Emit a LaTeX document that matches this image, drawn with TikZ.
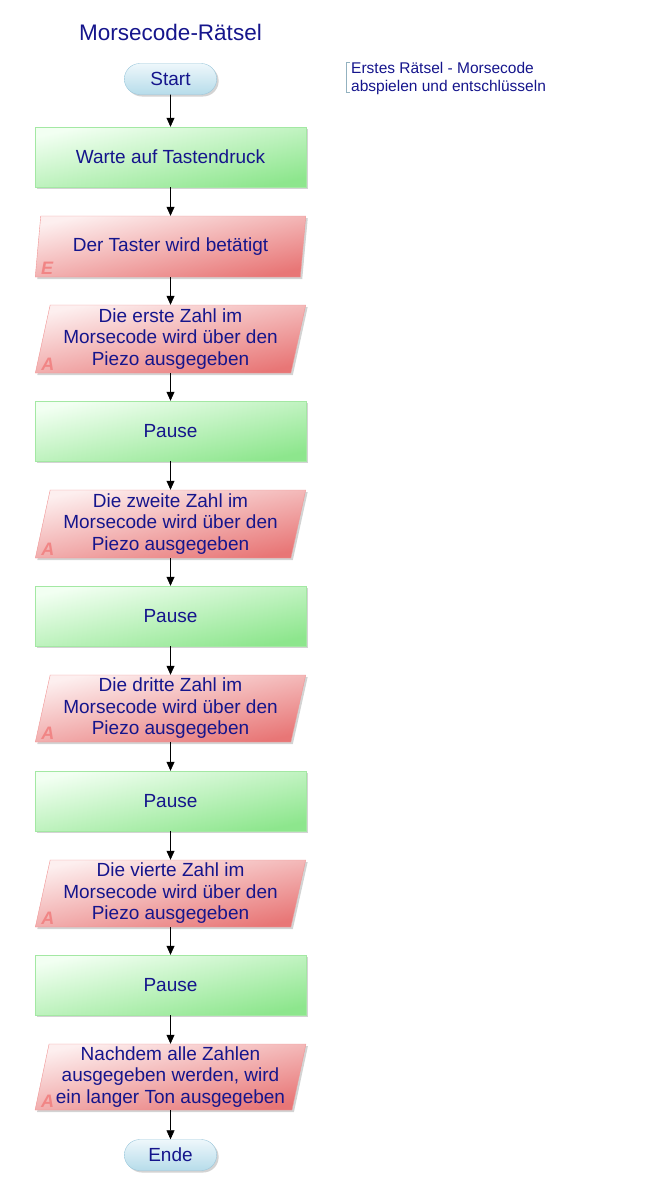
\documentclass[tikz,border=0pt]{standalone}
\usepackage{fontspec}
\setmainfont{Liberation Sans}
\usetikzlibrary{shapes.geometric,shapes.misc,shadows,arrows.meta}
\definecolor{txtblue}{HTML}{15158C}
\definecolor{grnlo}{HTML}{F2FFF2}
\definecolor{grnhi}{HTML}{8DE68D}
\definecolor{grnln}{HTML}{A3E8A3}
\definecolor{redlo}{HTML}{FDEFEF}
\definecolor{redhi}{HTML}{E87676}
\definecolor{redln}{HTML}{F09494}
\definecolor{blulo}{HTML}{EEF7FB}
\definecolor{bluhi}{HTML}{B6DCEA}
\definecolor{bluln}{HTML}{9CC8DC}
\begin{document}
\begin{tikzpicture}[x=1pt, y=-1pt,
  every node/.style={text=txtblue, font=\fontsize{19}{21.5}\selectfont, align=center},
  shd/.style={drop shadow={opacity=0.35, shadow xshift=2pt, shadow yshift=-2pt}},
  term/.style={rounded rectangle, minimum width=99pt, minimum height=31pt, draw=bluln,
    top color=blulo, bottom color=bluhi, shd},
  proc/.style={rectangle, minimum width=271pt, minimum height=60pt, draw=grnln,
    top color=grnlo, bottom color=grnhi, shading angle=12, shd},
  io/.style={trapezium, trapezium left angle=78, trapezium right angle=102,
    trapezium stretches=true, minimum width=271pt, minimum height=#1, draw=redln,
    top color=redlo, bottom color=redhi, shading angle=12, shd, inner sep=1pt},
  iolbl/.style={text=redln!90!red, font=\fontsize{18}{18}\selectfont\bfseries\itshape,
    anchor=south west, inner sep=0pt},
  arr/.style={-{Triangle[length=9pt,width=8pt]}, black, line width=0.6pt}]
\useasboundingbox (0,0) rectangle (652,1199);
\node[font=\fontsize{22.5}{24}\selectfont] (ttl) at (170.5,32) {Morsecode-Rätsel};
\node[term] (blk0) at (170.5,79) {Start};
\node[proc] (blk1) at (170.5,157) {Warte auf Tastendruck};
\draw[arr] (blk0) -- (blk1);
\node[io=61pt] (blk2) at (170.5,246.5) {Der Taster wird betätigt};
\node[iolbl] at ([shift={(6,-3)}]blk2.bottom left corner) {E};
\draw[arr] (blk1) -- (blk2);
\node[io=68pt] (blk3) at (170.5,339) {Die erste Zahl im\\Morsecode wird über den\\Piezo ausgegeben};
\node[iolbl] at ([shift={(6,-3)}]blk3.bottom left corner) {A};
\draw[arr] (blk2) -- (blk3);
\node[proc] (blk4) at (170.5,431) {Pause};
\draw[arr] (blk3) -- (blk4);
\node[io=68pt] (blk5) at (170.5,524) {Die zweite Zahl im\\Morsecode wird über den\\Piezo ausgegeben};
\node[iolbl] at ([shift={(6,-3)}]blk5.bottom left corner) {A};
\draw[arr] (blk4) -- (blk5);
\node[proc] (blk6) at (170.5,616) {Pause};
\draw[arr] (blk5) -- (blk6);
\node[io=67pt] (blk7) at (170.5,708.5) {Die dritte Zahl im\\Morsecode wird über den\\Piezo ausgegeben};
\node[iolbl] at ([shift={(6,-3)}]blk7.bottom left corner) {A};
\draw[arr] (blk6) -- (blk7);
\node[proc] (blk8) at (170.5,801) {Pause};
\draw[arr] (blk7) -- (blk8);
\node[io=67pt] (blk9) at (170.5,893.5) {Die vierte Zahl im\\Morsecode wird über den\\Piezo ausgegeben};
\node[iolbl] at ([shift={(6,-3)}]blk9.bottom left corner) {A};
\draw[arr] (blk8) -- (blk9);
\node[proc] (blk10) at (170.5,985) {Pause};
\draw[arr] (blk9) -- (blk10);
\node[io=66pt] (blk11) at (170.5,1077) {Nachdem alle Zahlen\\ausgegeben werden, wird\\ein langer Ton ausgegeben};
\node[iolbl] at ([shift={(6,-3)}]blk11.bottom left corner) {A};
\draw[arr] (blk10) -- (blk11);
\node[term] (blk12) at (170.5,1155) {Ende};
\draw[arr] (blk11) -- (blk12);
% Kommentar
\node[anchor=north west, align=left, font=\fontsize{15.5}{18}\selectfont, inner sep=0pt] (cmt) at (351,62) {Erstes Rätsel - Morsecode\\abspielen und entschlüsseln};
\draw[bluln!70!gray, line width=0.8pt] ([xshift=-1pt]cmt.north west) -- ++(-4,0) |- ([xshift=-1pt,yshift=2pt]cmt.south west);
\end{tikzpicture}
\end{document}
